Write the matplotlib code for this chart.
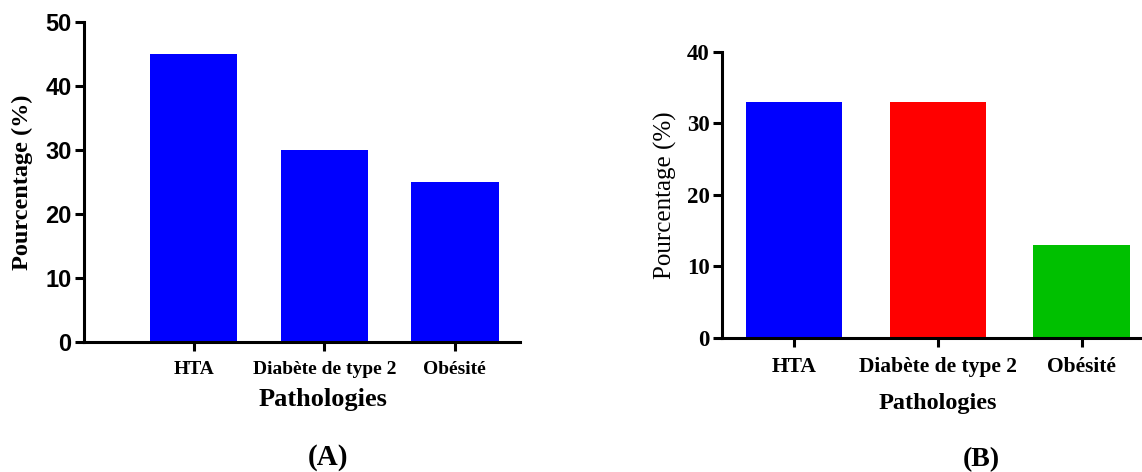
import matplotlib
matplotlib.use("Agg")
import matplotlib.pyplot as plt

# donnees
pathologies = ["HTA", "Diabète de type 2", "Obésité"]
pct_a = [45, 30, 25]
pct_b = [33, 33, 13]
couleurs_a = ["#0000ff", "#0000ff", "#0000ff"]
couleurs_b = ["#0000ff", "#ff0000", "#00c000"]

serif = "Liberation Serif"
sans = "Liberation Sans"

fig = plt.figure(figsize=(11.42, 4.72), dpi=100)

ax1 = fig.add_axes([0.0736, 0.2754, 0.3818, 0.678])
ax2 = fig.add_axes([0.6322, 0.2839, 0.3678, 0.606])

for ax in (ax1, ax2):
    for s in ("top", "right"):
        ax.spines[s].set_visible(False)
    for s in ("left", "bottom"):
        ax.spines[s].set_linewidth(2.2)
    ax.tick_params(width=2.2, length=6.5)
    ax.tick_params(axis="y", pad=2.5)
    ax.tick_params(axis="x", pad=7)

# (A)
ax1.bar(range(len(pathologies)), pct_a, width=0.67, color=couleurs_a)
ax1.set_xlim(-0.84, 2.5)
ax1.set_ylim(0, 50)
ax1.set_yticks([0, 10, 20, 30, 40, 50])
ax1.set_xticks(range(len(pathologies)))
ax1.set_xticklabels(pathologies, fontfamily=serif, fontweight="bold", fontsize=14)
for t in ax1.get_yticklabels():
    t.set_fontfamily(sans)
    t.set_fontweight("bold")
    t.set_fontsize(17)
ax1.set_ylabel("Pourcentage (%)", fontfamily=serif, fontweight="bold", fontsize=17.5)
ax1.yaxis.set_label_coords(-0.118, 0.5)

# (B)
ax2.bar(range(len(pathologies)), pct_b, width=0.67, color=couleurs_b)
ax2.set_xlim(-0.5, 2.42)
ax2.set_ylim(0, 40)
ax2.set_yticks([0, 10, 20, 30, 40])
ax2.set_xticks(range(len(pathologies)))
ax2.set_xticklabels(pathologies, fontfamily=serif, fontweight="bold", fontsize=15.5)
for t in ax2.get_yticklabels():
    t.set_fontfamily(serif)
    t.set_fontweight("bold")
    t.set_fontsize(16.5)
ax2.set_ylabel("Pourcentage (%)", fontfamily=serif, fontsize=18)
ax2.yaxis.set_label_coords(-0.108, 0.5)

fig.text(0.283, 0.153, "Pathologies", ha="center", va="center",
         fontfamily=serif, fontweight="bold", fontsize=19)
fig.text(0.287, 0.03, "(A)", ha="center", va="center",
         fontfamily=serif, fontweight="bold", fontsize=21)
fig.text(0.821, 0.146, "Pathologies", ha="center", va="center",
         fontfamily=serif, fontweight="bold", fontsize=17.5)
fig.text(0.859, 0.027, "(B)", ha="center", va="center",
         fontfamily=serif, fontweight="bold", fontsize=20)

fig.savefig("out.png", dpi=100)
